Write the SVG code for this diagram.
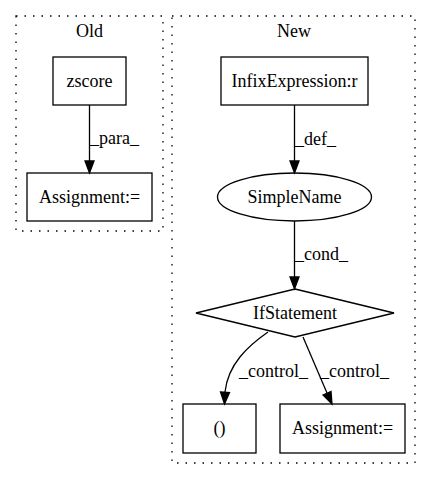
<svg xmlns="http://www.w3.org/2000/svg" width="432" height="480" viewBox="0 0 432 480">
<style>
text{font-family:"Liberation Serif","Times New Roman",serif;font-size:18px;fill:#000}
.c{text-anchor:middle}
.n{fill:none;stroke:#000;stroke-width:1.3}
.cl{fill:none;stroke:#000;stroke-width:1.3;stroke-dasharray:1.5,7}
.e{fill:none;stroke:#000;stroke-width:1.3}
.h{fill:#000;stroke:#000;stroke-width:1.3}
</style>
<rect width="432" height="480" fill="#fff"/>
<g id="cluster_old">
<rect class="cl" x="16" y="16" width="147" height="215"/>
<text class="c" x="89.5" y="37">Old</text>
</g>
<g id="cluster_new">
<rect class="cl" x="172" y="16" width="243" height="447"/>
<text class="c" x="294" y="37">New</text>
</g>
<g id="zscore">
<rect class="n" x="53" y="57" width="73" height="48"/>
<text class="c" x="89.5" y="87">zscore</text>
</g>
<g id="assign_old">
<rect class="n" x="27" y="173" width="125" height="48"/>
<text class="c" x="89.5" y="203">Assignment:=</text>
</g>
<g id="infix">
<rect class="n" x="221" y="57" width="147" height="48"/>
<text class="c" x="294.5" y="87">InfixExpression:r</text>
</g>
<g id="simplename">
<ellipse class="n" cx="294.5" cy="197" rx="77" ry="24"/>
<text class="c" x="294.5" y="203">SimpleName</text>
</g>
<g id="ifstatement">
<polygon class="n" points="295,289 394,313 295,337 196,313"/>
<text class="c" x="295" y="319">IfStatement</text>
</g>
<g id="paren">
<rect class="n" x="183" y="404" width="73" height="49"/>
<text class="c" x="219.5" y="434">()</text>
</g>
<g id="assign_new">
<rect class="n" x="280" y="404" width="125" height="49"/>
<text class="c" x="342.5" y="434">Assignment:=</text>
</g>
<g id="edges">
<path class="e" d="M89.5,105 L89.5,161"/>
<polygon class="h" points="85,161 94,161 89.5,173"/>
<text x="90" y="144">_para_</text>
<path class="e" d="M294.5,105 L294.5,161"/>
<polygon class="h" points="290,161 299,161 294.5,173"/>
<text x="295" y="145">_def_</text>
<path class="e" d="M294.5,221 L294.5,277"/>
<polygon class="h" points="290,277 299,277 294.5,289"/>
<text x="295" y="260">_cond_</text>
<path class="e" d="M268,332 C248,346 228,364 225,392"/>
<polygon class="h" points="220.5,392 229.5,392.5 224.5,404"/>
<text x="239" y="377">_control_</text>
<path class="e" d="M303,337 L327,393"/>
<polygon class="h" points="323,395 331,391.5 332,404"/>
<text x="320" y="377">_control_</text>
</g>
</svg>
